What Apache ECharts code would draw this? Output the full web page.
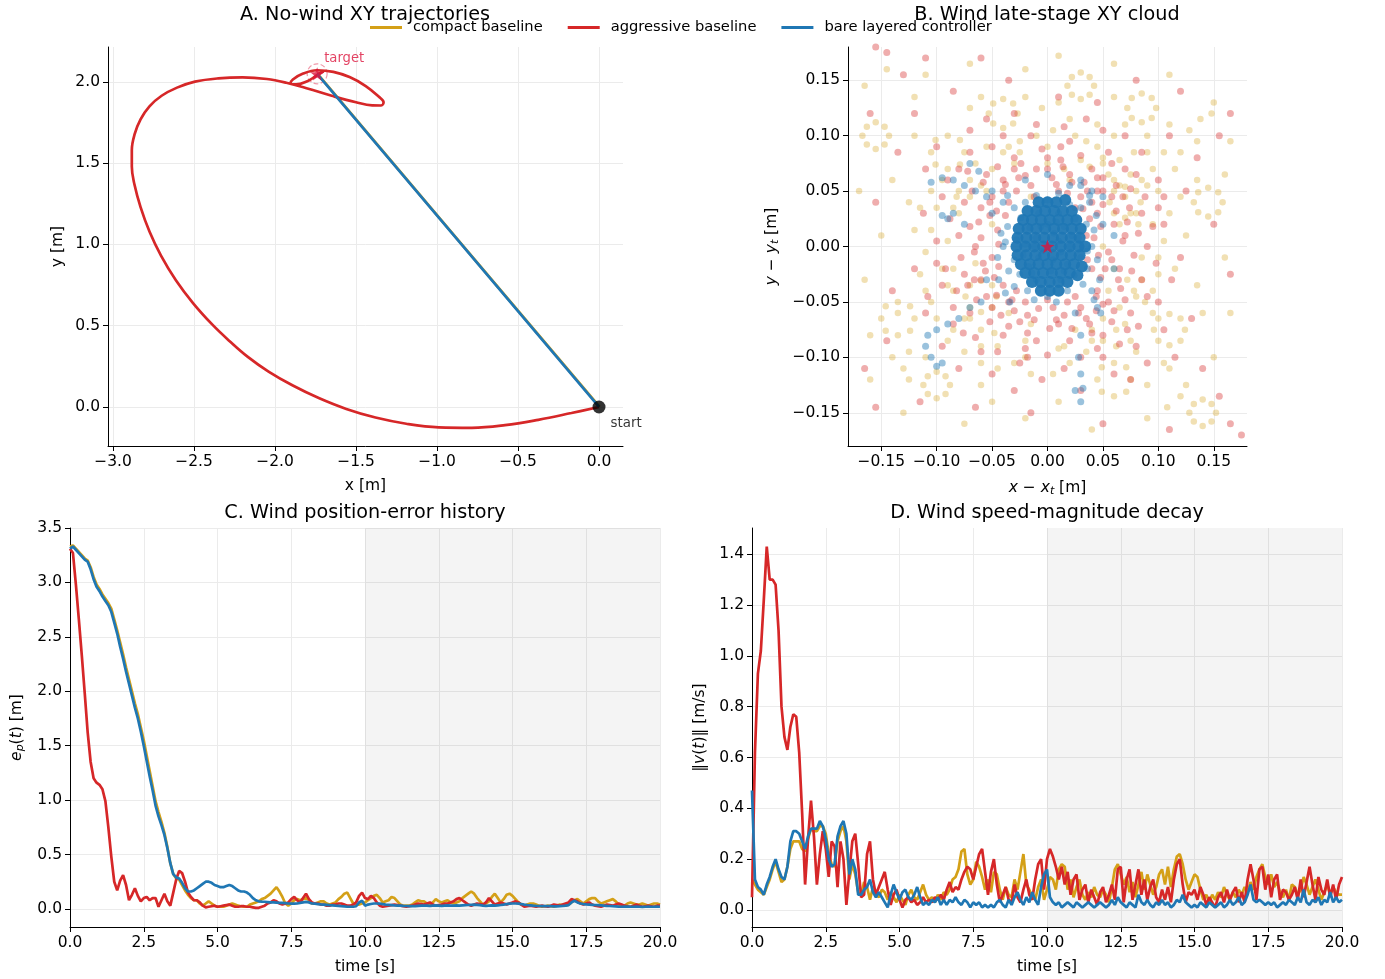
<!DOCTYPE html>
<html>
<head>
<meta charset="utf-8">
<script src="https://cdn.jsdelivr.net/npm/echarts@6/dist/echarts.min.js"></script>
<style>
  html, body { margin: 0; background: #fff; }
  #chart { width: 1385px; height: 979px; }
</style>
</head>
<body>
<div id="chart"></div>
<script>
const seriesNames = ["compact baseline", "aggressive baseline", "bare layered controller"]
const seriesColors = ["#d4a017", "#d62728", "#1f77b4"]

// A. no-wind XY paths [x, y] in m
const target = [-1.74, 2.05]
const start = [0, 0]
const compactPath = [[0.004, 0], [-0.868, 1.025], [-1.736, 2.048]]
const barePath = [[0, 0], [-0.87, 1.025], [-1.74, 2.05]]
const aggressivePath = [
  [0, 0], [-0.17, -0.037], [-0.375, -0.079], [-0.58, -0.112], [-0.785, -0.128], [-0.99, -0.125],
  [-1.19, -0.103], [-1.38, -0.065], [-1.56, -0.012], [-1.73, 0.055], [-1.89, 0.132], [-2.04, 0.218],
  [-2.17, 0.31], [-2.28, 0.405], [-2.385, 0.505], [-2.505, 0.638], [-2.612, 0.78], [-2.703, 0.93],
  [-2.775, 1.08], [-2.83, 1.23], [-2.868, 1.37], [-2.884, 1.48], [-2.884, 1.58], [-2.866, 1.68],
  [-2.83, 1.77], [-2.775, 1.85], [-2.70, 1.915], [-2.605, 1.965], [-2.494, 2.002], [-2.35, 2.022],
  [-2.2, 2.028], [-2.05, 2.018], [-1.93, 1.995], [-1.80, 1.96], [-1.65, 1.915], [-1.50, 1.875],
  [-1.40, 1.856], [-1.345, 1.855], [-1.33, 1.875], [-1.36, 1.91], [-1.44, 1.975], [-1.54, 2.03],
  [-1.64, 2.062], [-1.74, 2.072], [-1.83, 2.05], [-1.89, 2.015], [-1.905, 1.99], [-1.87, 1.985],
  [-1.80, 2.005], [-1.75, 2.035], [-1.72, 2.055], [-1.70, 2.065], [-1.72, 2.055], [-1.74, 2.05]
]

// B. late-stage wind offsets [x - xt, y - yt] in m
const compactCloud = [
  [-0.120, -0.065], [-0.124, -0.054], [-0.135, -0.050], [-0.146, -0.054], [-0.150, -0.065], [-0.146, -0.076], [-0.135, -0.080], [-0.124, -0.076],
  [0.098, 0.125], [0.094, 0.134], [0.085, 0.138], [0.076, 0.134], [0.072, 0.125], [0.076, 0.116], [0.085, 0.112], [0.094, 0.116],
  [-0.075, 0.085], [-0.079, 0.096], [-0.090, 0.100], [-0.101, 0.096], [-0.105, 0.085], [-0.101, 0.074], [-0.090, 0.070], [-0.079, 0.074],
  [0.124, -0.075], [0.120, -0.065], [0.110, -0.061], [0.100, -0.065], [0.096, -0.075], [0.100, -0.085], [0.110, -0.089], [0.120, -0.085],
  [-0.088, -0.125], [-0.092, -0.117], [-0.100, -0.113], [-0.108, -0.117], [-0.112, -0.125], [-0.108, -0.133], [-0.100, -0.137], [-0.092, -0.133],
  [0.042, 0.145], [0.038, 0.153], [0.030, 0.157], [0.022, 0.153], [0.018, 0.145], [0.022, 0.137], [0.030, 0.133], [0.038, 0.137],
  [0.075, -0.120], [0.071, -0.109], [0.060, -0.105], [0.049, -0.109], [0.045, -0.120], [0.049, -0.131], [0.060, -0.135], [0.071, -0.131],
  [-0.143, 0.100], [-0.147, 0.108], [-0.155, 0.112], [-0.163, 0.108], [-0.167, 0.100], [-0.163, 0.092], [-0.155, 0.088], [-0.147, 0.092],
  [0.158, 0.040], [0.154, 0.049], [0.145, 0.053], [0.136, 0.049], [0.132, 0.040], [0.136, 0.031], [0.145, 0.027], [0.154, 0.031],
  [-0.027, 0.120], [-0.031, 0.129], [-0.040, 0.133], [-0.049, 0.129], [-0.053, 0.120], [-0.049, 0.111], [-0.040, 0.107], [-0.031, 0.111],
  [0.152, -0.150], [0.148, -0.142], [0.140, -0.138], [0.132, -0.142], [0.128, -0.150], [0.132, -0.158], [0.140, -0.162], [0.148, -0.158],
  [-0.046, -0.045], [-0.050, -0.035], [-0.060, -0.031], [-0.070, -0.035], [-0.074, -0.045], [-0.070, -0.055], [-0.060, -0.059], [-0.050, -0.055],
  [0.084, 0.040], [0.080, 0.050], [0.070, 0.054], [0.060, 0.050], [0.056, 0.040], [0.060, 0.030], [0.070, 0.026], [0.080, 0.030],
  [-0.165, 0.145], [-0.145, 0.16], [-0.12, 0.135], [-0.11, 0.155], [-0.07, 0.165], [-0.02, 0.16], [0.01, 0.172], [0.06, 0.165],
  [0.11, 0.155], [0.15, 0.13], [0.165, 0.095], [0.12, 0.085], [0.1, 0.05], [0.125, 0.01], [0.16, -0.01], [0.135, -0.035],
  [0.085, -0.03], [0.165, -0.06], [0.15, -0.1], [0.125, -0.125], [0.09, -0.155], [0.04, -0.165], [0.01, -0.14], [-0.02, -0.155],
  [-0.05, -0.14], [-0.075, -0.16], [-0.13, -0.15], [-0.16, -0.12], [-0.165, -0.03], [-0.15, 0.01], [-0.17, 0.05], [-0.125, 0.04],
  [-0.105, 0.015], [-0.08, 0.03], [-0.06, 0.055], [-0.03, 0.075], [0.0, 0.09], [0.025, 0.1], [0.05, 0.08], [0.045, 0.11],
  [0.09, 0.085], [-0.095, -0.02], [-0.11, -0.04], [-0.085, -0.075], [-0.045, -0.09], [-0.02, -0.1], [0.015, -0.09], [0.04, -0.075],
  [0.07, -0.07], [0.095, -0.04], [0.06, -0.02], [0.05, 0.0], [-0.05, 0.02], [-0.035, -0.06], [0.02, 0.06], [-0.015, 0.045],
  [0.105, -0.105], [-0.125, -0.095], [0.08, -0.095], [-0.07, 0.125],
  [0.055, 0.065], [0.065, 0.078], [0.078, 0.085], [0.095, 0.07], [0.105, 0.085], [0.115, 0.07], [0.12, 0.045], [0.11, 0.03],
  [0.095, 0.02], [0.105, 0.005], [0.115, -0.02], [0.1, -0.025], [0.088, -0.05], [0.095, -0.06], [0.075, -0.085], [0.062, -0.09],
  [0.05, -0.085], [0.035, -0.095], [0.02, -0.105], [0.005, -0.115], [-0.015, -0.115], [-0.03, -0.105], [-0.045, -0.11], [-0.06, -0.105],
  [-0.075, -0.095], [-0.09, -0.085], [-0.1, -0.065], [-0.105, -0.05], [-0.115, -0.025], [-0.11, -0.005], [-0.12, 0.015], [-0.115, 0.035],
  [-0.105, 0.05], [-0.095, 0.06], [-0.08, 0.05], [-0.065, 0.075], [-0.055, 0.09], [-0.04, 0.085], [-0.025, 0.095], [-0.01, 0.1],
  [0.005, 0.105], [0.02, 0.115], [0.035, 0.095], [0.045, 0.09], [0.06, 0.1], [0.07, 0.11], [0.09, 0.1], [0.075, 0.065],
  [0.065, 0.055], [0.085, 0.06], [0.072, -0.03], [0.08, -0.045], [0.065, -0.055], [0.05, -0.065], [-0.06, -0.075], [-0.075, -0.065],
  [-0.085, -0.04], [-0.082, 0.045], [-0.07, 0.06], [0.038, 0.072], [0.128, 0.105], [0.138, 0.115], [0.148, 0.12], [0.135, 0.095],
  [-0.13, -0.11], [-0.14, -0.1], [-0.125, -0.12], [0.12, -0.135], [0.108, -0.145], [-0.02, 0.135], [-0.005, 0.125], [0.01, 0.13],
  [0.075, 0.03], [-0.09, -0.035], [0.09, -0.125], [-0.06, 0.135], [-0.14, 0.06], [0.14, -0.06], [0.16, 0.065], [-0.16, -0.08],
  [0.06, 0.06], [0.07, 0.045], [0.082, 0.02], [0.085, -0.01], [0.078, -0.04], [0.062, -0.075], [0.04, -0.085], [0.01, -0.092],
  [-0.02, -0.085], [-0.048, -0.078], [-0.07, -0.065], [-0.085, -0.02], [-0.09, 0.005], [-0.085, 0.035], [-0.07, 0.045], [-0.05, 0.07],
  [-0.025, 0.085], [0.0, 0.075], [0.03, 0.078], [0.05, 0.075], [0.09, 0.055], [0.1, -0.01], [-0.1, 0.035], [-0.06, -0.09],
  [0.025, -0.075], [-0.035, 0.09], [0.11, 0.11], [-0.12, 0.1], [-0.11, -0.1], [0.11, -0.11], [0.065, 0.02], [-0.065, -0.015],
  [0.015, 0.07], [-0.015, -0.07], [0.055, -0.04], [-0.055, 0.05], [0.135, 0.06], [-0.135, -0.06], [0.06, 0.135], [-0.06, -0.125]
]
const aggressiveCloud = [
  [0.035, 0.01], [0.04, -0.02], [0.045, 0.03], [0.03, 0.045], [0.01, 0.05], [-0.015, 0.055], [-0.035, 0.04], [-0.045, 0.015],
  [-0.05, -0.01], [-0.04, -0.035], [-0.02, -0.05], [0.005, -0.055], [0.025, -0.045], [0.045, -0.04], [0.055, -0.005], [0.06, 0.02],
  [0.05, 0.05], [0.02, 0.065], [-0.01, 0.07], [-0.04, 0.06], [-0.06, 0.035], [-0.065, 0.0], [-0.06, -0.03], [-0.05, -0.055],
  [-0.025, -0.068], [0.01, -0.07], [0.035, -0.065], [0.055, -0.05], [0.065, -0.02], [0.07, 0.01], [0.068, 0.045], [0.04, 0.07],
  [0.0, 0.08], [-0.03, 0.08], [-0.055, 0.065], [-0.075, 0.04], [-0.08, 0.01], [-0.075, -0.025], [-0.07, -0.06], [-0.04, -0.08],
  [-0.01, -0.085], [0.02, -0.085], [0.05, -0.08], [0.075, -0.06], [0.085, -0.03], [0.09, 0.0], [0.085, 0.03], [0.08, 0.065],
  [0.055, 0.085], [0.02, 0.095], [-0.015, 0.1], [-0.05, 0.09], [-0.08, 0.07], [-0.095, 0.045], [-0.1, 0.005], [-0.095, -0.035],
  [-0.085, -0.07], [-0.06, -0.095], [-0.025, -0.105], [0.015, -0.11], [0.05, -0.1], [0.08, -0.09], [0.1, -0.05], [0.105, 0.02],
  [0.1, 0.06], [0.07, 0.1], [0.035, 0.115], [-0.03, 0.12], [-0.07, 0.105], [-0.11, 0.07], [-0.12, -0.02], [-0.11, -0.06],
  [-0.08, -0.11], [-0.03, -0.13], [0.03, -0.13], [0.075, -0.12], [0.115, -0.1], [0.12, -0.01], [0.125, 0.05], [0.11, 0.1],
  [-0.155, 0.18], [-0.145, 0.175], [-0.13, 0.155], [-0.11, 0.17], [-0.06, 0.17], [0.045, 0.13], [0.12, 0.14], [0.155, 0.1],
  [0.165, 0.12], [0.135, 0.08], [0.15, 0.02], [0.165, -0.025], [0.13, -0.065], [0.14, -0.11], [0.155, -0.135], [0.165, -0.16],
  [0.175, -0.17], [0.11, -0.165], [0.05, -0.16], [-0.015, -0.15], [-0.065, -0.145], [-0.115, -0.14], [-0.155, -0.145], [-0.165, -0.11],
  [-0.145, -0.085], [-0.14, -0.04], [-0.155, 0.04], [-0.135, 0.085], [-0.16, 0.12], [-0.12, 0.12], [-0.085, 0.14], [-0.035, 0.15],
  [0.01, 0.135], [0.08, 0.15],
  [0.042, 0.008], [0.038, 0.025], [0.05, 0.038], [0.033, 0.058], [0.018, 0.048], [0.004, 0.062], [-0.012, 0.045], [-0.026, 0.062],
  [-0.04, 0.05], [-0.052, 0.028], [-0.044, 0.002], [-0.058, -0.015], [-0.048, -0.028], [-0.035, -0.05], [-0.018, -0.062], [0.0, -0.048],
  [0.015, -0.062], [0.03, -0.055], [0.048, -0.028], [0.058, -0.012], [0.062, 0.032], [0.072, 0.022], [0.078, -0.008], [0.066, -0.038],
  [0.07, -0.048], [0.058, -0.068], [0.04, -0.078], [0.022, -0.074], [0.002, -0.074], [-0.018, -0.078], [-0.035, -0.072], [-0.052, -0.068],
  [-0.064, -0.048], [-0.072, -0.035], [-0.078, -0.01], [-0.07, 0.018], [-0.068, 0.05], [-0.058, 0.058], [-0.045, 0.072], [-0.024, 0.075],
  [-0.005, 0.088], [0.012, 0.078], [0.03, 0.082], [0.045, 0.062], [0.058, 0.075], [0.075, 0.052], [0.088, 0.045], [0.095, 0.018],
  [0.098, -0.015], [0.09, -0.045], [0.082, -0.072], [0.065, -0.088], [0.045, -0.092], [0.03, -0.1], [0.0, -0.098], [-0.02, -0.092],
  [-0.045, -0.095], [-0.065, -0.082], [-0.085, -0.055], [-0.092, -0.02], [-0.088, 0.025], [-0.09, 0.06], [-0.07, 0.085], [-0.04, 0.1],
  [-0.01, 0.11], [0.015, 0.108], [0.05, 0.105], [0.085, 0.085], [0.105, 0.045], [0.112, -0.03], [0.105, -0.075], [0.09, -0.105],
  [0.06, -0.115], [-0.005, -0.12], [-0.05, -0.115], [-0.095, -0.09], [-0.108, -0.045], [-0.112, 0.03], [-0.1, 0.09], [-0.055, 0.115],
  [0.036, -0.012], [-0.038, 0.028], [0.025, 0.035], [-0.028, -0.04], [0.045, 0.05], [-0.05, 0.045], [0.05, -0.052], [-0.055, -0.045],
  [0.068, 0.005], [-0.066, -0.005],
  [0.04, 0.04], [0.048, 0.018], [0.052, -0.02], [0.044, -0.045], [0.028, -0.06], [0.008, -0.066], [-0.012, -0.066], [-0.03, -0.058],
  [-0.046, -0.044], [-0.056, -0.022], [-0.06, 0.008], [-0.052, 0.04], [-0.038, 0.056], [-0.02, 0.064], [0.0, 0.07], [0.022, 0.058],
  [0.036, 0.05], [0.058, 0.045], [0.064, -0.03], [0.038, -0.07], [-0.042, -0.062], [-0.066, -0.03], [-0.062, 0.022], [-0.03, 0.07],
  [0.014, 0.072], [0.05, 0.062], [0.062, 0.055], [0.074, 0.035], [0.076, -0.022], [0.06, -0.058], [0.044, -0.058], [0.018, -0.05],
  [-0.008, -0.056], [-0.032, -0.048], [-0.044, -0.018], [-0.046, 0.032], [-0.028, 0.05], [0.008, 0.056], [0.032, 0.034], [0.046, -0.008],
  [0.082, 0.012], [-0.082, -0.04], [0.07, 0.07], [-0.072, 0.068], [0.072, -0.075], [-0.076, -0.078], [0.012, 0.09], [-0.018, -0.1],
  [0.1, 0.035], [-0.1, -0.015]
]
const bareCloud = [
  [0, 0], [0.01, 0.005], [-0.01, 0.008], [0.005, -0.012], [-0.008, -0.01], [0.02, 0.0], [-0.02, 0.002], [0.0, 0.02],
  [0.003, -0.022], [0.015, 0.018], [-0.016, 0.017], [0.018, -0.016], [-0.017, -0.018], [0.028, 0.008], [-0.028, 0.006], [0.01, 0.03],
  [-0.008, 0.03], [0.012, -0.03], [-0.01, -0.03], [0.03, -0.01], [-0.03, -0.012], [0.025, 0.025], [-0.024, 0.026], [0.024, -0.026],
  [-0.025, -0.025], [0.035, 0.02], [-0.036, 0.018], [0.036, -0.02], [-0.035, -0.022], [0.02, 0.038], [-0.02, 0.04], [0.018, -0.04],
  [-0.018, -0.04], [0.04, 0.0], [-0.04, 0.0], [0.0, 0.042], [0.0, -0.045], [0.03, 0.035], [-0.03, 0.035], [0.032, -0.034],
  [-0.03, -0.036], [0.006, 0.012], [-0.005, -0.004], [0.012, -0.005], [-0.012, 0.0], [0.008, 0.022], [-0.006, 0.018], [0.022, 0.01],
  [-0.022, -0.008], [0.015, -0.022], [-0.014, -0.024], [0.042, 0.015], [-0.042, 0.012], [0.045, -0.012], [-0.045, -0.01], [0.01, 0.048],
  [-0.01, 0.046], [0.008, -0.05], [-0.012, -0.048], [0.038, 0.04], [-0.04, 0.04], [0.04, -0.04], [-0.038, -0.042],
  [0.05, 0.02], [0.047, -0.03], [0.045, -0.055], [0.048, -0.06], [0.03, 0.055], [-0.05, 0.03], [-0.055, -0.03], [-0.05, 0.05],
  [0.02, 0.055], [0.05, 0.045], [0.03, 0.06], [-0.02, 0.06], [0.0, 0.065], [0.06, 0.01], [0.06, -0.02], [0.04, 0.05],
  [-0.055, 0.045], [-0.065, 0.05], [-0.075, 0.055], [-0.085, 0.06], [-0.095, 0.062], [-0.105, 0.058], [-0.062, 0.068], [-0.07, 0.075],
  [-0.085, 0.03], [-0.09, 0.025], [-0.095, 0.028], [-0.075, 0.02],
  [-0.06, -0.05], [-0.07, -0.055], [-0.08, -0.065], [-0.09, -0.07], [-0.1, -0.075], [-0.108, -0.08], [-0.11, -0.09], [-0.105, -0.1],
  [-0.1, -0.108], [-0.095, -0.105],
  [0.025, -0.06], [0.03, -0.08], [0.028, -0.1], [0.03, -0.115], [0.032, -0.128], [0.03, -0.14], [0.025, -0.13],
  [0.038, 0.046], [-0.036, 0.046], [0.042, -0.048], [-0.034, -0.05], [0.044, 0.028], [-0.044, -0.03], [0.036, -0.004], [-0.038, 0.004]
]
// the densest part of the bare cloud, where markers fully overlap
const bareCore = [
  [-0.008, 0.04], [0, 0.04], [0.008, 0.04], [0.016, 0.042],
  [-0.018, 0.032], [-0.01, 0.032], [-0.002, 0.032], [0.006, 0.032], [0.014, 0.032], [0.022, 0.032],
  [-0.022, 0.024], [-0.014, 0.024], [-0.006, 0.024], [0.002, 0.024], [0.01, 0.024], [0.018, 0.024], [0.026, 0.024],
  [-0.026, 0.016], [-0.018, 0.016], [-0.01, 0.016], [-0.002, 0.016], [0.006, 0.016], [0.014, 0.016], [0.022, 0.016], [0.03, 0.016],
  [-0.027, 0.008], [-0.019, 0.008], [-0.011, 0.008], [-0.003, 0.008], [0.005, 0.008], [0.013, 0.008], [0.021, 0.008], [0.029, 0.008],
  [-0.028, 0], [-0.02, 0], [-0.012, 0], [-0.004, 0], [0.004, 0], [0.012, 0], [0.02, 0], [0.028, 0], [0.034, 0.0],
  [-0.027, -0.008], [-0.019, -0.008], [-0.011, -0.008], [-0.003, -0.008], [0.005, -0.008], [0.013, -0.008], [0.021, -0.008], [0.029, -0.008],
  [-0.024, -0.016], [-0.016, -0.016], [-0.008, -0.016], [0.0, -0.016], [0.008, -0.016], [0.016, -0.016], [0.024, -0.016], [0.031, -0.018],
  [-0.02, -0.024], [-0.012, -0.024], [-0.004, -0.024], [0.004, -0.024], [0.012, -0.024], [0.02, -0.024], [0.027, -0.026],
  [-0.014, -0.032], [-0.006, -0.032], [0.002, -0.032], [0.01, -0.032], [0.018, -0.032],
  [-0.006, -0.04], [0.002, -0.04], [0.01, -0.04]
]

// C and D. time histories, sampled every 0.1 s
const timeS = [
  0.0, 0.1, 0.2, 0.3, 0.4, 0.5, 0.6, 0.7, 0.8, 0.9,
  1.0, 1.1, 1.2, 1.3, 1.4, 1.5, 1.6, 1.7, 1.8, 1.9,
  2.0, 2.1, 2.2, 2.3, 2.4, 2.5, 2.6, 2.7, 2.8, 2.9,
  3.0, 3.1, 3.2, 3.3, 3.4, 3.5, 3.6, 3.7, 3.8, 3.9,
  4.0, 4.1, 4.2, 4.3, 4.4, 4.5, 4.6, 4.7, 4.8, 4.9,
  5.0, 5.1, 5.2, 5.3, 5.4, 5.5, 5.6, 5.7, 5.8, 5.9,
  6.0, 6.1, 6.2, 6.3, 6.4, 6.5, 6.6, 6.7, 6.8, 6.9,
  7.0, 7.1, 7.2, 7.3, 7.4, 7.5, 7.6, 7.7, 7.8, 7.9,
  8.0, 8.1, 8.2, 8.3, 8.4, 8.5, 8.6, 8.7, 8.8, 8.9,
  9.0, 9.1, 9.2, 9.3, 9.4, 9.5, 9.6, 9.7, 9.8, 9.9,
  10.0, 10.1, 10.2, 10.3, 10.4, 10.5, 10.6, 10.7, 10.8, 10.9,
  11.0, 11.1, 11.2, 11.3, 11.4, 11.5, 11.6, 11.7, 11.8, 11.9,
  12.0, 12.1, 12.2, 12.3, 12.4, 12.5, 12.6, 12.7, 12.8, 12.9,
  13.0, 13.1, 13.2, 13.3, 13.4, 13.5, 13.6, 13.7, 13.8, 13.9,
  14.0, 14.1, 14.2, 14.3, 14.4, 14.5, 14.6, 14.7, 14.8, 14.9,
  15.0, 15.1, 15.2, 15.3, 15.4, 15.5, 15.6, 15.7, 15.8, 15.9,
  16.0, 16.1, 16.2, 16.3, 16.4, 16.5, 16.6, 16.7, 16.8, 16.9,
  17.0, 17.1, 17.2, 17.3, 17.4, 17.5, 17.6, 17.7, 17.8, 17.9,
  18.0, 18.1, 18.2, 18.3, 18.4, 18.5, 18.6, 18.7, 18.8, 18.9,
  19.0, 19.1, 19.2, 19.3, 19.4, 19.5, 19.6, 19.7, 19.8, 19.9,
  20.0
]

// position error e_p(t) [m]
const errCompact = [
  3.33, 3.34, 3.31, 3.28, 3.25, 3.22, 3.20, 3.14, 3.05, 2.98,
  2.94, 2.89, 2.85, 2.81, 2.76, 2.66, 2.56, 2.45, 2.34, 2.22,
  2.11, 2.00, 1.89, 1.79, 1.67, 1.55, 1.41, 1.27, 1.13, 0.99,
  0.89, 0.80, 0.70, 0.57, 0.42, 0.32, 0.28, 0.27, 0.22, 0.17,
  0.13, 0.10, 0.08, 0.08, 0.05, 0.03, 0.05, 0.07, 0.05, 0.03,
  0.02, 0.02, 0.02, 0.03, 0.04, 0.05, 0.04, 0.03, 0.025, 0.02,
  0.02, 0.04, 0.05, 0.06, 0.07, 0.09, 0.10, 0.12, 0.14, 0.17,
  0.20, 0.16, 0.11, 0.05, 0.03, 0.05, 0.08, 0.09, 0.08, 0.09,
  0.10, 0.08, 0.05, 0.05, 0.06, 0.07, 0.07, 0.05, 0.04, 0.05,
  0.06, 0.09, 0.11, 0.14, 0.15, 0.10, 0.05, 0.04, 0.04, 0.05,
  0.06, 0.08, 0.10, 0.12, 0.13, 0.10, 0.06, 0.07, 0.08, 0.11,
  0.10, 0.07, 0.04, 0.03, 0.03, 0.03, 0.04, 0.06, 0.08, 0.07,
  0.07, 0.05, 0.04, 0.06, 0.09, 0.07, 0.06, 0.07, 0.08, 0.06,
  0.05, 0.06, 0.07, 0.10, 0.12, 0.14, 0.16, 0.14, 0.10, 0.07,
  0.04, 0.05, 0.07, 0.11, 0.14, 0.10, 0.06, 0.09, 0.13, 0.14,
  0.12, 0.09, 0.06, 0.04, 0.03, 0.04, 0.05, 0.05, 0.04, 0.03,
  0.02, 0.025, 0.03, 0.025, 0.02, 0.03, 0.04, 0.035, 0.03, 0.04,
  0.06, 0.08, 0.09, 0.07, 0.05, 0.07, 0.09, 0.10, 0.10, 0.07,
  0.05, 0.06, 0.07, 0.08, 0.09, 0.07, 0.04, 0.03, 0.03, 0.05,
  0.06, 0.05, 0.04, 0.04, 0.05, 0.04, 0.03, 0.04, 0.05, 0.05,
  0.04
]
const errAggressive = [
  3.31, 3.27, 2.98, 2.66, 2.33, 1.98, 1.62, 1.35, 1.20, 1.16,
  1.14, 1.10, 0.99, 0.75, 0.48, 0.25, 0.17, 0.26, 0.31, 0.22,
  0.08, 0.13, 0.19, 0.12, 0.07, 0.10, 0.11, 0.08, 0.10, 0.10,
  0.02, 0.08, 0.14, 0.07, 0.03, 0.15, 0.27, 0.35, 0.33, 0.25,
  0.15, 0.11, 0.08, 0.08, 0.06, 0.03, 0.015, 0.02, 0.025, 0.03,
  0.02, 0.025, 0.03, 0.035, 0.04, 0.03, 0.02, 0.02, 0.025, 0.025,
  0.02, 0.02, 0.015, 0.01, 0.01, 0.02, 0.03, 0.05, 0.06, 0.08,
  0.07, 0.05, 0.04, 0.05, 0.06, 0.09, 0.11, 0.08, 0.06, 0.10,
  0.14, 0.09, 0.06, 0.05, 0.05, 0.04, 0.04, 0.03, 0.03, 0.04,
  0.04, 0.05, 0.05, 0.04, 0.03, 0.03, 0.04, 0.06, 0.12, 0.15,
  0.10, 0.09, 0.12, 0.10, 0.06, 0.03, 0.02, 0.025, 0.03, 0.035,
  0.04, 0.035, 0.03, 0.025, 0.02, 0.025, 0.03, 0.04, 0.05, 0.045,
  0.04, 0.05, 0.06, 0.04, 0.03, 0.035, 0.04, 0.05, 0.05, 0.06,
  0.07, 0.09, 0.10, 0.08, 0.06, 0.04, 0.03, 0.04, 0.05, 0.045,
  0.04, 0.06, 0.10, 0.07, 0.04, 0.05, 0.06, 0.05, 0.04, 0.05,
  0.06, 0.07, 0.06, 0.04, 0.02, 0.025, 0.03, 0.025, 0.02, 0.025,
  0.03, 0.025, 0.02, 0.03, 0.04, 0.035, 0.03, 0.04, 0.05, 0.06,
  0.09, 0.08, 0.07, 0.05, 0.04, 0.05, 0.06, 0.04, 0.03, 0.025,
  0.02, 0.03, 0.04, 0.035, 0.03, 0.04, 0.05, 0.04, 0.03, 0.025,
  0.02, 0.03, 0.04, 0.03, 0.02, 0.025, 0.03, 0.025, 0.02, 0.03,
  0.03
]
const errBare = [
  3.31, 3.33, 3.30, 3.27, 3.24, 3.21, 3.19, 3.12, 3.03, 2.96,
  2.92, 2.87, 2.83, 2.79, 2.73, 2.63, 2.53, 2.41, 2.30, 2.18,
  2.07, 1.96, 1.85, 1.75, 1.63, 1.50, 1.36, 1.22, 1.09, 0.95,
  0.85, 0.77, 0.68, 0.56, 0.42, 0.32, 0.29, 0.28, 0.24, 0.19,
  0.16, 0.16, 0.17, 0.19, 0.21, 0.23, 0.25, 0.25, 0.24, 0.22,
  0.21, 0.20, 0.20, 0.21, 0.22, 0.21, 0.19, 0.17, 0.16, 0.16,
  0.15, 0.13, 0.10, 0.08, 0.07, 0.067, 0.066, 0.063, 0.06, 0.06,
  0.058, 0.056, 0.055, 0.053, 0.05, 0.049, 0.048, 0.05, 0.055, 0.06,
  0.065, 0.06, 0.05, 0.048, 0.045, 0.042, 0.04, 0.038, 0.035, 0.033,
  0.03, 0.028, 0.025, 0.023, 0.02, 0.02, 0.02, 0.025, 0.06, 0.075,
  0.03, 0.04, 0.045, 0.05, 0.05, 0.048, 0.045, 0.04, 0.038, 0.035,
  0.032, 0.03, 0.03, 0.028, 0.027, 0.025, 0.025, 0.026, 0.028, 0.03,
  0.03, 0.03, 0.028, 0.03, 0.032, 0.03, 0.028, 0.03, 0.032, 0.03,
  0.03, 0.032, 0.03, 0.033, 0.035, 0.036, 0.038, 0.04, 0.038, 0.035,
  0.03, 0.028, 0.03, 0.032, 0.03, 0.033, 0.036, 0.04, 0.045, 0.048,
  0.05, 0.05, 0.048, 0.045, 0.04, 0.036, 0.033, 0.03, 0.028, 0.027,
  0.026, 0.025, 0.025, 0.026, 0.024, 0.023, 0.025, 0.027, 0.03, 0.035,
  0.06, 0.075, 0.06, 0.05, 0.045, 0.042, 0.04, 0.038, 0.036, 0.035,
  0.033, 0.03, 0.028, 0.027, 0.025, 0.024, 0.022, 0.02, 0.021, 0.022,
  0.02, 0.02, 0.022, 0.02, 0.019, 0.02, 0.021, 0.02, 0.02, 0.021,
  0.02
]

// speed magnitude ||v(t)|| [m/s]
const speedCompact = [
  0.12, 0.10, 0.08, 0.07, 0.06, 0.09, 0.12, 0.16, 0.19, 0.15,
  0.11, 0.12, 0.17, 0.24, 0.27, 0.27, 0.27, 0.24, 0.23, 0.28,
  0.32, 0.31, 0.31, 0.33, 0.33, 0.30, 0.22, 0.18, 0.17, 0.27,
  0.31, 0.33, 0.27, 0.12, 0.18, 0.14, 0.07, 0.06, 0.11, 0.09,
  0.04, 0.09, 0.06, 0.05, 0.08, 0.07, 0.04, 0.07, 0.05, 0.03,
  0.06, 0.04, 0.02, 0.06, 0.08, 0.05, 0.04, 0.07, 0.10, 0.06,
  0.04, 0.05, 0.03, 0.06, 0.04, 0.07, 0.06, 0.08, 0.12, 0.13,
  0.16, 0.23, 0.24, 0.14, 0.10, 0.12, 0.19, 0.17, 0.13, 0.08,
  0.12, 0.07, 0.15, 0.14, 0.08, 0.04, 0.09, 0.06, 0.05, 0.12,
  0.08, 0.15, 0.22, 0.10, 0.08, 0.05, 0.04, 0.09, 0.12, 0.04,
  0.08, 0.13, 0.12, 0.08, 0.16, 0.18, 0.17, 0.08, 0.12, 0.05,
  0.09, 0.12, 0.06, 0.04, 0.07, 0.05, 0.09, 0.06, 0.05, 0.08,
  0.06, 0.03, 0.09, 0.16, 0.18, 0.14, 0.10, 0.13, 0.07, 0.11,
  0.05, 0.10, 0.15, 0.08, 0.14, 0.10, 0.06, 0.09, 0.14, 0.16,
  0.10, 0.17, 0.09, 0.16, 0.21, 0.22, 0.18, 0.12, 0.08, 0.11,
  0.14, 0.13, 0.08, 0.04, 0.06, 0.03, 0.06, 0.04, 0.07, 0.05,
  0.09, 0.06, 0.04, 0.07, 0.05, 0.08, 0.06, 0.09, 0.07, 0.11,
  0.08, 0.13, 0.16, 0.18, 0.13, 0.10, 0.14, 0.09, 0.11, 0.07,
  0.05, 0.08, 0.04, 0.10, 0.09, 0.06, 0.08, 0.13, 0.10, 0.06,
  0.09, 0.12, 0.08, 0.04, 0.07, 0.10, 0.06, 0.09, 0.07, 0.06,
  0.06
]
const speedAggressive = [
  0.05, 0.62, 0.93, 1.02, 1.22, 1.43, 1.30, 1.30, 1.28, 1.10,
  0.80, 0.68, 0.63, 0.72, 0.77, 0.76, 0.62, 0.38, 0.10, 0.28,
  0.43, 0.29, 0.10, 0.22, 0.31, 0.24, 0.13, 0.27, 0.25, 0.09,
  0.27, 0.20, 0.02, 0.15, 0.27, 0.30, 0.18, 0.05, 0.06, 0.22,
  0.27, 0.12, 0.06, 0.09, 0.12, 0.15, 0.08, 0.02, 0.06, 0.08,
  0.04, 0.01, 0.04, 0.05, 0.03, 0.04, 0.02, 0.03, 0.05, 0.03,
  0.04, 0.03, 0.05, 0.04, 0.06, 0.04, 0.08, 0.11, 0.07, 0.09,
  0.08, 0.12, 0.15, 0.17, 0.16, 0.12, 0.17, 0.22, 0.24, 0.15,
  0.06, 0.15, 0.20, 0.10, 0.03, 0.06, 0.09, 0.04, 0.03, 0.10,
  0.05, 0.03, 0.08, 0.12, 0.06, 0.04, 0.12, 0.18, 0.20, 0.08,
  0.20, 0.24, 0.21, 0.17, 0.12, 0.17, 0.10, 0.15, 0.06, 0.12,
  0.14, 0.04, 0.08, 0.10, 0.03, 0.08, 0.05, 0.02, 0.07, 0.09,
  0.03, 0.06, 0.10, 0.04, 0.16, 0.17, 0.03, 0.12, 0.16, 0.04,
  0.10, 0.16, 0.06, 0.12, 0.04, 0.09, 0.12, 0.05, 0.03, 0.08,
  0.04, 0.09, 0.03, 0.12, 0.18, 0.20, 0.10, 0.03, 0.07, 0.06,
  0.08, 0.04, 0.09, 0.06, 0.02, 0.05, 0.03, 0.01, 0.05, 0.07,
  0.03, 0.08, 0.04, 0.07, 0.09, 0.03, 0.07, 0.03, 0.12, 0.18,
  0.12, 0.04, 0.16, 0.17, 0.08, 0.14, 0.05, 0.12, 0.14, 0.04,
  0.08, 0.07, 0.04, 0.06, 0.09, 0.04, 0.12, 0.05, 0.11, 0.17,
  0.10, 0.04, 0.13, 0.08, 0.06, 0.12, 0.05, 0.10, 0.04, 0.10,
  0.13
]
const speedBare = [
  0.47, 0.12, 0.09, 0.08, 0.06, 0.10, 0.13, 0.17, 0.20, 0.16,
  0.13, 0.12, 0.17, 0.27, 0.31, 0.31, 0.30, 0.27, 0.24, 0.29,
  0.32, 0.32, 0.32, 0.35, 0.33, 0.28, 0.20, 0.17, 0.18, 0.29,
  0.33, 0.35, 0.30, 0.14, 0.20, 0.16, 0.06, 0.06, 0.08, 0.09,
  0.12, 0.07, 0.05, 0.07, 0.05, 0.03, 0.01, 0.06, 0.10, 0.07,
  0.04, 0.07, 0.08, 0.05, 0.04, 0.06, 0.09, 0.05, 0.02, 0.03,
  0.02, 0.04, 0.03, 0.05, 0.02, 0.04, 0.02, 0.04, 0.03, 0.05,
  0.03, 0.02, 0.04, 0.03, 0.01, 0.03, 0.02, 0.03, 0.01, 0.02,
  0.01, 0.02, 0.01, 0.03, 0.04, 0.02, 0.01, 0.04, 0.02, 0.05,
  0.07, 0.04, 0.02, 0.05, 0.03, 0.07, 0.04, 0.02, 0.09, 0.14,
  0.16, 0.05, 0.03, 0.02, 0.03, 0.01, 0.02, 0.03, 0.02, 0.01,
  0.03, 0.02, 0.01, 0.02, 0.03, 0.02, 0.01, 0.02, 0.03, 0.02,
  0.01, 0.02, 0.04, 0.02, 0.05, 0.03, 0.02, 0.01, 0.03, 0.02,
  0.01, 0.06, 0.03, 0.02, 0.04, 0.02, 0.01, 0.03, 0.02, 0.04,
  0.02, 0.03, 0.01, 0.02, 0.04, 0.03, 0.06, 0.03, 0.02, 0.01,
  0.02, 0.01, 0.03, 0.02, 0.01, 0.03, 0.02, 0.01, 0.02, 0.03,
  0.01, 0.02, 0.04, 0.02, 0.03, 0.05, 0.02, 0.03, 0.06, 0.10,
  0.04, 0.03, 0.04, 0.03, 0.02, 0.03, 0.02, 0.03, 0.01, 0.02,
  0.03, 0.02, 0.04, 0.03, 0.02, 0.05, 0.03, 0.08, 0.03, 0.02,
  0.04, 0.03, 0.05, 0.02, 0.04, 0.03, 0.07, 0.03, 0.05, 0.03,
  0.04
]

// tick labels
const ticksAx = [-3.0, -2.5, -2.0, -1.5, -1.0, -0.5, 0.0]
const ticksAy = [0.0, 0.5, 1.0, 1.5, 2.0]
const ticksB = [-0.15, -0.10, -0.05, 0.0, 0.05, 0.10, 0.15]
const ticksTime = [0, 2.5, 5, 7.5, 10, 12.5, 15, 17.5, 20]
const ticksErr = [0.0, 0.5, 1.0, 1.5, 2.0, 2.5, 3.0, 3.5]
const ticksSpeed = [0.0, 0.2, 0.4, 0.6, 0.8, 1.0, 1.2, 1.4]
const shadeWindow = [10, 20]

const FONT = "DejaVu Sans"
const TICK_PX = 15.5
const STAR = "path://M0,-10 L2.35,-3.24 L9.51,-3.09 L3.8,1.24 L5.88,8.09 L0,4 L-5.88,8.09 L-3.8,1.24 L-9.51,-3.09 L-2.35,-3.24 Z"
const sub = { fontFamily: FONT, fontSize: 11, fontStyle: "italic", padding: [8, 0, 0, 0] }
const ital = { fontFamily: FONT, fontSize: TICK_PX, fontStyle: "italic" }

function fmt(d) {
  return (v) => (v < -1e-9 ? "\u2212" : "") + Math.abs(v).toFixed(d)
}

function axis(gridIndex, min, max, ticks, decimals, name, gap) {
  return {
    type: "value",
    gridIndex,
    min,
    max,
    name,
    nameLocation: "middle",
    nameGap: gap,
    nameTextStyle: { fontFamily: FONT, fontSize: TICK_PX, color: "#000", rich: { i: ital, s: sub } },
    axisLine: { show: true, onZero: false, lineStyle: { color: "#000", width: 1 } },
    axisTick: { show: true, inside: false, length: 5, customValues: ticks, lineStyle: { color: "#000" } },
    axisLabel: { customValues: ticks, formatter: fmt(decimals), margin: 8, fontFamily: FONT, fontSize: TICK_PX, color: "#000" },
    splitLine: { show: true, lineStyle: { color: "#ebebeb", width: 1 } },
  }
}

function pairs(ts, vs) {
  return ts.map((t, i) => [t, vs[i]])
}

const chart = echarts.init(document.getElementById("chart"), null, { renderer: "canvas" })

const series = []

// A
const pathsA = [compactPath, aggressivePath, barePath]
pathsA.forEach((p, k) => {
  series.push({
    name: seriesNames[k], type: "line", xAxisIndex: 0, yAxisIndex: 0, data: p,
    showSymbol: false, smooth: k === 1 ? 0.4 : false, animation: false,
    lineStyle: { color: seriesColors[k], width: 2.7 }, itemStyle: { color: seriesColors[k] },
  })
})
series.push({
  type: "scatter", xAxisIndex: 0, yAxisIndex: 0, data: [target], symbol: "circle", symbolSize: 20,
  itemStyle: { color: "rgba(0,0,0,0)", borderColor: "rgba(220,20,60,0.55)", borderWidth: 1.2, borderType: "dashed" },
  silent: true, animation: false,
})
series.push({
  type: "scatter", xAxisIndex: 0, yAxisIndex: 0, data: [target], symbol: STAR, symbolSize: 14, symbolKeepAspect: true,
  itemStyle: { color: "#dc143c" }, silent: true, animation: false, z: 5,
  label: { show: true, formatter: "target", position: [14, -15], color: "#dc143c", fontFamily: FONT, fontSize: 13.2 },
})
series.push({
  type: "scatter", xAxisIndex: 0, yAxisIndex: 0, data: [start], symbol: "circle", symbolSize: 13,
  itemStyle: { color: "#000" }, silent: true, animation: false, z: 5,
  label: { show: true, formatter: "start", position: [18, 17], color: "#000", fontFamily: FONT, fontSize: 13.4 },
})

// B
const clouds = [compactCloud, aggressiveCloud, bareCloud]
const cloudAlpha = [0.33, 0.38, 0.45]
clouds.forEach((c, k) => {
  series.push({
    name: seriesNames[k], type: "scatter", xAxisIndex: 1, yAxisIndex: 1, data: c,
    symbolSize: k === 0 ? 6.5 : 7, animation: false,
    itemStyle: { color: seriesColors[k], opacity: cloudAlpha[k] },
  })
})
series.push({
  name: seriesNames[2], type: "scatter", xAxisIndex: 1, yAxisIndex: 1, data: bareCore,
  symbolSize: 12, animation: false,
  itemStyle: { color: seriesColors[2], opacity: 0.95 },
})
series.push({
  type: "scatter", xAxisIndex: 1, yAxisIndex: 1, data: [[0, 0]], symbol: STAR, symbolSize: 14, symbolKeepAspect: true,
  itemStyle: { color: "#dc143c" }, silent: true, animation: false, z: 5,
})

// C and D
const errs = [errCompact, errAggressive, errBare]
const speeds = [speedCompact, speedAggressive, speedBare]
;[errs, speeds].forEach((group, g) => {
  group.forEach((vals, k) => {
    const s = {
      name: seriesNames[k], type: "line", xAxisIndex: 2 + g, yAxisIndex: 2 + g, data: pairs(timeS, vals),
      showSymbol: false, animation: false,
      lineStyle: { color: seriesColors[k], width: 2.7 }, itemStyle: { color: seriesColors[k] },
    }
    if (k === 0) {
      s.markArea = {
        silent: true,
        itemStyle: { color: "rgba(0,0,0,0.045)" },
        data: [[{ xAxis: shadeWindow[0] }, { xAxis: shadeWindow[1] }]],
      }
    }
    series.push(s)
  })
})

const titles = [
  ["A. No-wind XY trajectories", 365, 15],
  ["B. Wind late-stage XY cloud", 1047, 15],
  ["C. Wind position-error history", 365, 513],
  ["D. Wind speed-magnitude decay", 1047, 513],
]

const option = {
  animation: false,
  backgroundColor: "#fff",
  textStyle: { fontFamily: FONT },
  graphic: titles.map(([text, x, y]) => ({
    type: "text", x, y, z: 100,
    style: { text, align: "center", verticalAlign: "middle", font: `19.2px "${FONT}"`, fill: "#000" },
  })),
  legend: {
    data: seriesNames,
    left: 370,
    top: 20,
    padding: 0,
    icon: "rect",
    itemWidth: 32,
    itemHeight: 3,
    itemGap: 25,
    textStyle: { fontFamily: FONT, fontSize: 14.7, color: "#000", padding: [0, 0, 0, 6] },
    selectedMode: false,
    z: 50,
  },
  grid: [
    { left: 108, top: 47, width: 515, height: 399 },
    { left: 848, top: 47, width: 399, height: 399 },
    { left: 70, top: 528, width: 590, height: 399 },
    { left: 752, top: 528, width: 590, height: 399 },
  ],
  xAxis: [
    axis(0, -3.031, 0.148, ticksAx, 1, "x [m]", 32),
    axis(1, -0.18, 0.18, ticksB, 2, "{i|x} \u2212 {i|x}{s|t} [m]", 32),
    axis(2, 0, 20, ticksTime, 1, "time [s]", 32),
    axis(3, 0, 20, ticksTime, 1, "time [s]", 32),
  ],
  yAxis: [
    axis(0, -0.24, 2.215, ticksAy, 1, "y [m]", 42),
    axis(1, -0.18, 0.18, ticksB, 2, "{i|y} \u2212 {i|y}{s|t} [m]", 67),
    axis(2, -0.166, 3.5, ticksErr, 1, "{i|e}{s|p}({i|t}) [m]", 44),
    axis(3, -0.067, 1.503, ticksSpeed, 1, "\u2016{i|v}({i|t})\u2016 [m/s]", 44),
  ],
  series,
}

chart.setOption(option)
</script>
</body>
</html>
